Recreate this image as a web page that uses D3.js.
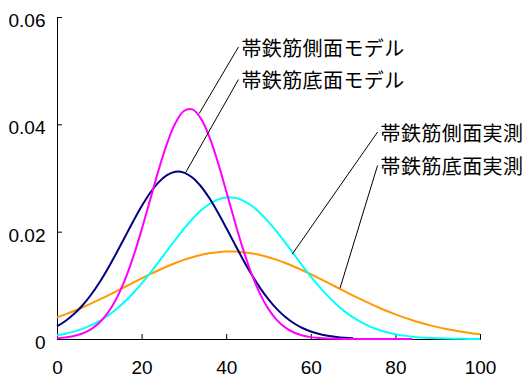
<!DOCTYPE html>
<html>
<head>
<meta charset="utf-8">
<script src="https://cdn.jsdelivr.net/npm/d3@7"></script>
<style>
  html, body { margin: 0; padding: 0; background: #fff; }
  svg { display: block; }
</style>
</head>
<body>
<svg id="chart" width="528" height="378"></svg>
<script>
// ---- data ----
const xTicks = [0, 20, 40, 60, 80, 100];
const yTicks = [0, 0.02, 0.04, 0.06];
const yTickLabels = ["0", "0.02", "0.04", "0.06"];

// x positions of the samples (every 2 units)
const xsSideModel = [0,2,4,6,8,10,12,14,16,18,20,22,24,26,28,30,32,34,36,38,40,42,44,46,48,50,52,54,56,58,60,62,64,66,68,70,72,74,76,78,80,82,84];
const sideModel = [0.00014,0.00028,0.00055,0.00102,0.0018,0.00302,0.00486,0.00746,0.01092,0.01526,0.02034,0.02588,0.03142,0.0364,0.04025,0.04248,0.04278,0.04111,0.0377,0.033,0.02756,0.02197,0.01671,0.01213,0.0084,0.00556,0.00351,0.00211,0.00121,0.00066,0.00035,0.00017,0.00008,0.00004,0.00002,0.00001,0,0,0,0,0,0,0];

const xsBottomModel = [0,2,4,6,8,10,12,14,16,18,20,22,24,26,28,30,32,34,36,38,40,42,44,46,48,50,52,54,56,58,60,62,64,66,68,70];
const bottomModel = [0.00237,0.00336,0.00464,0.00624,0.0082,0.01049,0.0131,0.01594,0.01892,0.0219,0.02472,0.0272,0.02919,0.03054,0.03117,0.03101,0.03009,0.02846,0.02626,0.02362,0.02072,0.01772,0.01478,0.01202,0.00953,0.00738,0.00556,0.00409,0.00293,0.00205,0.0014,0.00093,0.0006,0.00038,0.00023,0.00014];

const xsMeasured = [0,2,4,6,8,10,12,14,16,18,20,22,24,26,28,30,32,34,36,38,40,42,44,46,48,50,52,54,56,58,60,62,64,66,68,70,72,74,76,78,80,82,84,86,88,90,92,94,96,98,100];
const sideMeasured = [0.0007,0.00099,0.00138,0.00188,0.00253,0.00334,0.00434,0.00553,0.00693,0.00853,0.01031,0.01226,0.01432,0.01644,0.01854,0.02054,0.02236,0.02393,0.02515,0.02598,0.02637,0.0263,0.02578,0.02482,0.02349,0.02184,0.01995,0.01791,0.0158,0.01369,0.01166,0.00976,0.00803,0.00649,0.00515,0.00402,0.00308,0.00232,0.00172,0.00125,0.00089,0.00063,0.00043,0.00029,0.0002,0.00013,0.00008,0.00005,0.00003,0.00002,0.00001];
const bottomMeasured = [0.00402,0.00459,0.00521,0.00587,0.00658,0.00732,0.00809,0.00888,0.00969,0.01049,0.01129,0.01207,0.01281,0.01351,0.01416,0.01474,0.01524,0.01565,0.01596,0.01618,0.01629,0.01629,0.01618,0.01596,0.01565,0.01524,0.01474,0.01416,0.01351,0.01281,0.01207,0.01129,0.01049,0.00969,0.00888,0.00809,0.00732,0.00658,0.00587,0.00521,0.00459,0.00402,0.00349,0.00302,0.00259,0.00221,0.00187,0.00157,0.00131,0.00109,0.0009];

const seriesNames = ["帯鉄筋底面実測", "帯鉄筋側面実測", "帯鉄筋底面モデル", "帯鉄筋側面モデル"];
const seriesColors = ["#FF9900", "#00FFFF", "#000080", "#FF00FF"];

// annotation labels: label position and the curve point the leader points to (data units)
const annTexts = ["帯鉄筋側面モデル", "帯鉄筋底面モデル", "帯鉄筋側面実測", "帯鉄筋底面実測"];
const annLabelX = [43.6, 43.6, 76.5, 76.5];
const annLabelY = [0.0544, 0.04835, 0.03857, 0.03235];
const annAnchorX = [33.6, 30.4, 55.6, 66.9];
const annAnchorY = [0.0420, 0.0310, 0.0158, 0.00945];

// ---- chart ----
const svg = d3.select("#chart");
const x = d3.scaleLinear().domain([0, 100]).range([57, 480]);
const y = d3.scaleLinear().domain([0, 0.06]).range([339, 17]);

const seriesData = [
  xsMeasured.map((v, i) => [v, bottomMeasured[i]]),
  xsMeasured.map((v, i) => [v, sideMeasured[i]]),
  xsBottomModel.map((v, i) => [v, bottomModel[i]]),
  xsSideModel.map((v, i) => [v, sideModel[i]])
];

// axes
const yAxis = d3.axisLeft(y).tickValues(yTicks).tickSize(-5).tickPadding(11.5)
  .tickFormat((d, i) => yTickLabels[i]);
const gy = svg.append("g").attr("transform", `translate(${x(0)},0)`).call(yAxis);
const xAxis = d3.axisBottom(x).tickValues(xTicks).tickSize(-5).tickPadding(21.5)
  .tickFormat(d3.format("d"));
const gx = svg.append("g").attr("transform", `translate(0,${y(0)})`).call(xAxis);

[gx, gy].forEach(g => {
  g.select(".domain").attr("stroke", "#000").attr("stroke-width", 1);
  g.selectAll(".tick line").attr("stroke", "#000");
  g.selectAll("text").attr("font-family", "'Liberation Sans', Arial, sans-serif")
    .attr("font-size", 19).attr("fill", "#000");
});
gy.selectAll("text").attr("dy", "0.5em");

// curves
const line = d3.line().x(d => x(d[0])).y(d => y(Math.max(0, d[1]))).curve(d3.curveCatmullRom.alpha(0.5));
svg.append("g").selectAll("path").data(seriesData).join("path")
  .attr("d", line)
  .attr("fill", "none")
  .attr("stroke", (d, i) => seriesColors[i])
  .attr("stroke-width", 2)
  .attr("stroke-linejoin", "round");

// annotations
const ann = svg.append("g");
annTexts.forEach((t, i) => {
  ann.append("line")
    .attr("x1", x(annLabelX[i]) - 3).attr("y1", y(annLabelY[i]))
    .attr("x2", x(annAnchorX[i])).attr("y2", y(annAnchorY[i]))
    .attr("stroke", "#000").attr("stroke-width", 1);
  ann.append("text")
    .attr("x", x(annLabelX[i])).attr("y", y(annLabelY[i]))
    .attr("dominant-baseline", "central")
    .attr("font-family", "'Noto Sans CJK JP', sans-serif")
    .attr("font-size", 20)
    .attr("letter-spacing", 0.4)
    .attr("fill", "#000")
    .text(t);
});
</script>
</body>
</html>
